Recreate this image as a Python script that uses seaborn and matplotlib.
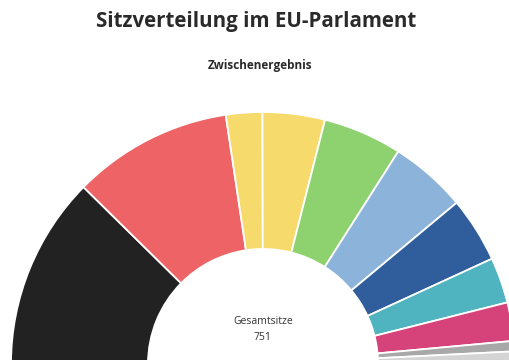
import matplotlib
matplotlib.use("Agg")
import matplotlib.pyplot as plt
import seaborn as sns

# Data
parties = ["EVP", "S&D", "ALDE", "Renaissance", "Grüne/EFA", "EKR", "ENF", "EFDD", "GUE/NGL", "Fraktionslos", "Sonstige"]
seats = [186, 154, 35, 60, 76, 74, 63, 44, 37, 10, 12]
colors = ["#222222", "#ee6466", "#f6da6b", "#f6da6b", "#8ed26f", "#8cb4da",
          "#305d9b", "#4fb4bf", "#d6437a", "#a8a8a8", "#d4d4d4"]
total_label = "Gesamtsitze"
total_seats = 751

sns.set_theme(style="white")
plt.rcParams['font.family'] = ['Open Sans', 'DejaVu Sans']

W, H = 509, 360
fig = plt.figure(figsize=(W / 100, H / 100), dpi=100)
fig.patch.set_facecolor("white")

bottom_px = 5
ax = fig.add_axes([0, bottom_px / H, 1, (H - bottom_px) / H])

# half-donut: each party's share of a semicircle
fractions = [s / (2 * sum(seats)) for s in seats]

cx, cy = 263, -4
R_out, R_in = 252, 115
ax.pie(fractions, colors=colors, startangle=180, counterclock=False, normalize=False,
       center=(cx, cy), radius=R_out, frame=True,
       wedgeprops=dict(width=R_out - R_in, edgecolor="white", linewidth=1.3))
ax.set_xlim(0, W)
ax.set_ylim(bottom_px, H)
ax.set_aspect("equal", adjustable="box")
ax.axis("off")

fig.text(256 / W, 1 - 22 / H, "Sitzverteilung im EU-Parlament", ha="center", va="center",
         fontsize=14.8, fontweight="bold", color="#2a2a2a")
fig.text(260 / W, 1 - 66 / H, "Zwischenergebnis", ha="center", va="center",
         fontsize=8.5, fontweight="bold", color="#2a2a2a")
fig.text(263 / W, 1 - 322 / H, total_label, ha="center", va="center",
         fontsize=7.5, color="#333333")
fig.text(263 / W, 1 - 338 / H, str(total_seats), ha="center", va="center",
         fontsize=7.5, color="#333333")

fig.savefig("out.png", dpi=100, facecolor="white")
